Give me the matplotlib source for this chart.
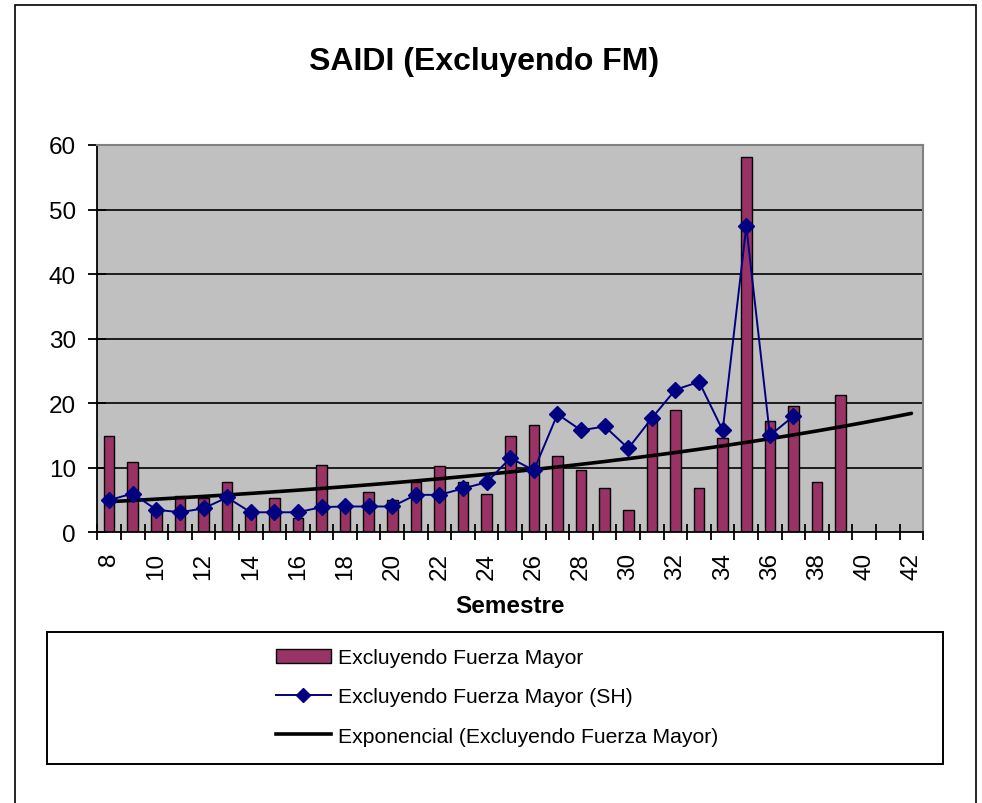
import numpy as np
import matplotlib
matplotlib.use("Agg")
import matplotlib.pyplot as plt
from matplotlib.patches import Rectangle
from matplotlib.lines import Line2D
from matplotlib.patches import Patch

plt.rcParams['font.family'] = ['Liberation Sans', 'DejaVu Sans']

# ---- data ----
categories = list(range(8, 43))  # semesters 8..42
bar_x = list(range(8, 40))
bar_values = [14.9, 10.9, 3.5, 5.6, 5.3, 7.75, 3.1, 5.3, 2.2, 10.5,
              4.2, 6.2, 5.0, 7.75, 10.2, 7.75, 5.9, 14.9, 16.7, 11.8,
              9.6, 6.8, 3.5, 17.9, 18.9, 6.8, 14.6, 58.1, 17.3, 19.5,
              7.75, 21.3]
sh_x = list(range(8, 38))
sh_values = [5.0, 6.0, 3.5, 3.1, 3.7, 5.4, 3.1, 3.1, 3.1, 3.9,
             4.0, 4.0, 4.0, 5.8, 5.8, 6.8, 7.75, 11.5, 9.6, 18.3,
             15.8, 16.4, 13.0, 17.7, 22.1, 23.3, 15.8, 47.4, 15.0, 18.0]
xtick_labels = [str(v) for v in range(8, 43, 2)]
yticks = [0, 10, 20, 30, 40, 50, 60]

labels = ["Excluyendo Fuerza Mayor",
          "Excluyendo Fuerza Mayor (SH)",
          "Exponencial (Excluyendo Fuerza Mayor)"]

# exponential trend (least squares on ln y), as a spreadsheet does
coef = np.polyfit(np.array(bar_x, float), np.log(np.array(bar_values)), 1)
trend_x = np.array(categories, float)
trend_y = np.exp(np.polyval(coef, trend_x))

W, H = 982, 804
fig = plt.figure(figsize=(W / 100, H / 100), dpi=100)

def fx(px):
    return px / W

def fy(py):
    return 1 - py / H

ax = fig.add_axes([fx(97.3), fy(533.3), fx(923.3) - fx(97.3), fy(146) - fy(533.3)])
ax.set_facecolor('#C0C0C0')
ax.set_xlim(7.5, 42.5)
ax.set_ylim(0, 60)

for y in yticks[1:-1]:
    ax.axhline(y, color='black', lw=1.2, zorder=1)

ax.bar(bar_x, bar_values, width=0.45, color='#993366', edgecolor='black',
       linewidth=1.0, zorder=2)
ax.plot(trend_x, trend_y, color='black', lw=2.6, zorder=3, solid_capstyle='round')
ax.plot(sh_x, sh_values, color='#000080', lw=1.4, marker='D', markersize=8.5,
        markerfacecolor='#000080', markeredgecolor='#000080', zorder=4)

# axis styling
for s in ['top', 'right']:
    ax.spines[s].set_color('#808080')
    ax.spines[s].set_linewidth(1.5)
for s in ['left', 'bottom']:
    ax.spines[s].set_color('black')
    ax.spines[s].set_linewidth(1.3)

ax.set_yticks(yticks)
ax.set_yticklabels([str(v) for v in yticks])
ax.tick_params(axis='y', direction='inout', length=13, width=1.3,
               labelsize=17.5, pad=9)

ax.set_xticks(np.arange(7.5, 43.0, 1.0))
ax.set_xticklabels([])
ax.tick_params(axis='x', which='major', direction='inout', length=12, width=1.3)
ax.set_xticks(range(8, 43, 2), minor=True)
ax.set_xticklabels(xtick_labels, minor=True, rotation=90)
ax.tick_params(axis='x', which='minor', length=0, labelsize=17.5, pad=14)

# title and x label
fig.text(fx(484), fy(70), "SAIDI (Excluyendo FM)", ha='center', va='baseline',
         fontsize=23, fontweight='bold')
fig.text(fx(510), fy(613), "Semestre", ha='center', va='baseline',
         fontsize=17.5, fontweight='bold')

# legend box
fig.patches.append(Rectangle((fx(46.7), fy(765)), fx(943.3) - fx(46.7),
                             fy(633.3) - fy(765), transform=fig.transFigure,
                             facecolor='white', edgecolor='black', lw=1.4))
handles = [Patch(facecolor='#993366', edgecolor='black', lw=1.0),
           Line2D([], [], color='#000080', lw=1.4, marker='D', markersize=7,
                  markerfacecolor='#000080'),
           Line2D([], [], color='black', lw=2.6)]
leg = fig.legend(handles, labels, loc='center', bbox_to_anchor=(fx(497), fy(698)),
                 frameon=False, fontsize=15.2, handlelength=2.6,
                 handleheight=0.62, handletextpad=0.35, labelspacing=0.95,
                 borderpad=0)

# outer border
fig.patches.append(Rectangle((fx(15.3), fy(810)), fx(975.7) - fx(15.3),
                             fy(6) - fy(810), transform=fig.transFigure,
                             facecolor='none', edgecolor='black', lw=1.2,
                             clip_on=False))

fig.savefig("out.png", dpi=100)
